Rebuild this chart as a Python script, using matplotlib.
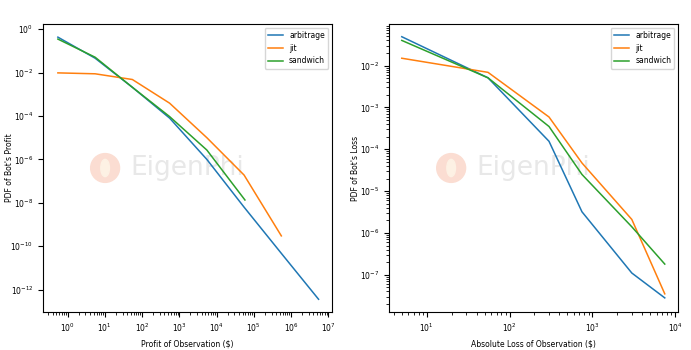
#!/usr/bin/env python3

import matplotlib
matplotlib.use('Agg')
import matplotlib.pyplot as plt
from matplotlib.patches import Ellipse

# profit distribution (left)
profit_x = [0.55, 5.5, 55, 550, 5500, 55000, 550000, 5500000]
profit_arb = [0.43, 0.046, 0.0021, 8e-5, 1e-6, 6.3e-9, 4.7e-11, 3.6e-13]
profit_jit_x = [0.55, 5.5, 55, 550, 5500, 55000, 550000]
profit_jit = [0.0097, 0.0088, 0.0048, 3.9e-4, 1e-5, 1.9e-7, 3e-10]
profit_sand_x = [0.55, 5.5, 55, 550, 5500, 58000]
profit_sand = [0.35, 0.051, 0.0021, 9.4e-5, 2.7e-6, 1.35e-8]

# loss distribution (right)
loss_x = [5, 55, 300, 750, 3000, 7500]
loss_arb = [0.049, 0.0051, 1.55e-4, 3.2e-6, 1.1e-7, 2.8e-8]
loss_jit = [0.015, 0.0069, 5.9e-4, 4.7e-5, 2.1e-6, 3.5e-8]
loss_sand = [0.040, 0.0051, 3.5e-4, 2.5e-5, 1.4e-6, 1.8e-7]

plt.rcParams['font.size'] = 5.5


def watermark(ax):
    ax.add_patch(Ellipse((0.215, 0.5), 0.1, 0.1, transform=ax.transAxes,
                         color='#fbddd2', zorder=0))
    ax.add_patch(Ellipse((0.215, 0.5), 0.03, 0.06, transform=ax.transAxes,
                         color='#fdf1e4', zorder=0))
    ax.text(0.50, 0.5, 'EigenPhi', transform=ax.transAxes, fontsize=19,
            color='#e8e8e8', ha='center', va='center', zorder=0)


def main():
    fig = plt.figure(figsize=(6.91, 3.5), dpi=100)
    ax1 = fig.add_axes([0.0622, 0.1086, 0.4182, 0.8229])
    ax2 = fig.add_axes([0.563, 0.1086, 0.4182, 0.8229])

    ax1.plot(profit_x, profit_arb, label='arbitrage', lw=1.1)
    ax1.plot(profit_jit_x, profit_jit, label='jit', lw=1.1)
    ax1.plot(profit_sand_x, profit_sand, label='sandwich', lw=1.1)
    ax1.set_xscale('log')
    ax1.set_yscale('log')
    ax1.set_xlim(10 ** -0.66, 10 ** 7.1)
    ax1.set_ylim(10 ** -13.03, 10 ** 0.24)
    ax1.set_xlabel('Profit of Observation ($)')
    ax1.set_ylabel("PDF of Bot's Profit")
    ax1.yaxis.set_label_coords(-0.10, 0.5)
    ax1.legend(loc='upper right')
    watermark(ax1)

    ax2.plot(loss_x, loss_arb, label='arbitrage', lw=1.1)
    ax2.plot(loss_x, loss_jit, label='jit', lw=1.1)
    ax2.plot(loss_x, loss_sand, label='sandwich', lw=1.1)
    ax2.set_xscale('log')
    ax2.set_yscale('log')
    ax2.set_xlim(10 ** 0.545, 10 ** 4.035)
    ax2.set_ylim(10 ** -7.89, 10 ** -1.005)
    ax2.set_xlabel('Absolute Loss of Observation ($)')
    ax2.set_ylabel("PDF of Bot's Loss")
    ax2.yaxis.set_label_coords(-0.10, 0.5)
    ax2.legend(loc='upper right')
    watermark(ax2)

    fig.savefig('out.png', dpi=100)


if __name__ == '__main__':
    main()
